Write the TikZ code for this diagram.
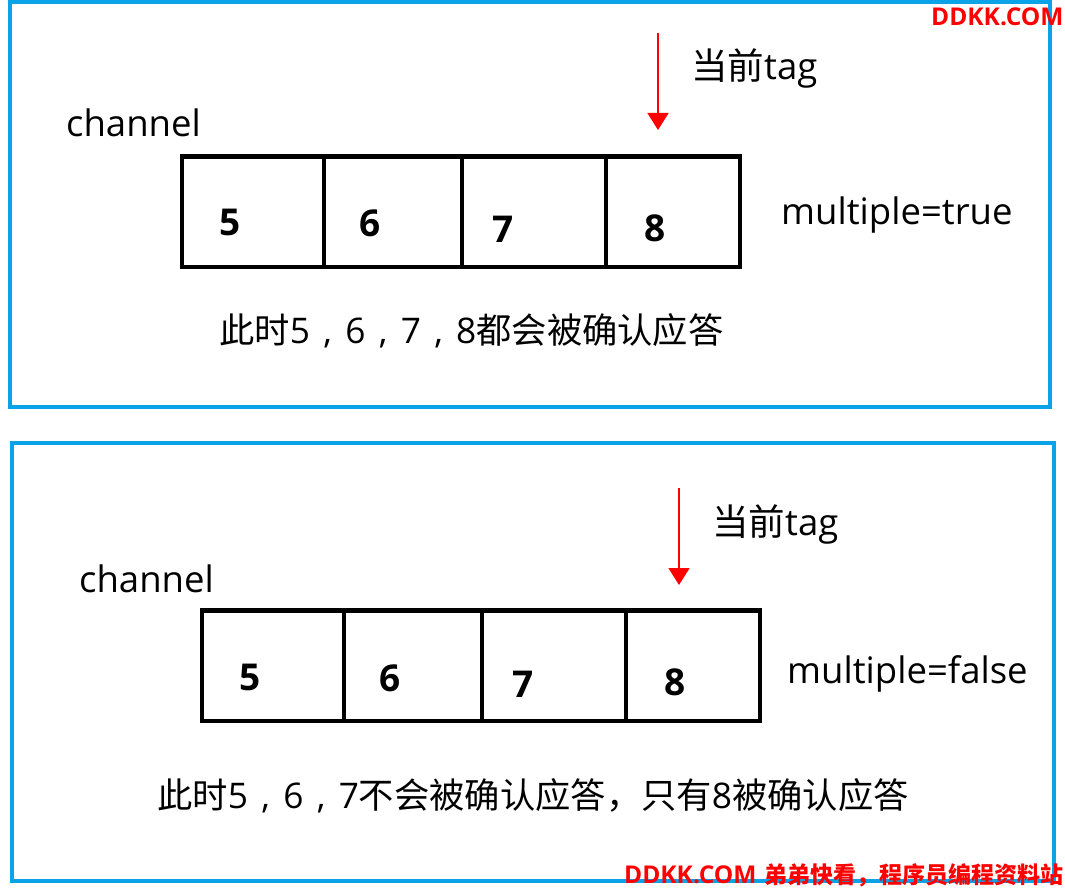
\documentclass[tikz,border=0pt]{standalone}
\usepackage{fontspec}
\setmainfont{Open Sans}
\newfontfamily\cjk{Noto Sans CJK SC}
\usetikzlibrary{arrows.meta}
\definecolor{frameblue}{RGB}{10,163,232}
\definecolor{wmred}{RGB}{255,0,0}
\newcommand\fwcomma{\makebox[1em][c]{,}}
\tikzset{
  frame/.style={draw=frameblue,line width=4.5pt,rectangle,inner sep=0pt,outer sep=0pt,anchor=north west},
  cell/.style={draw=black,line width=4.5pt,rectangle,inner sep=0pt,outer sep=0pt,anchor=north west,minimum height=110.5pt},
  num/.style={font=\fontsize{37}{40}\selectfont\bfseries,inner sep=0pt,text=black},
  txt/.style={font=\fontsize{36.5}{40}\selectfont,inner sep=0pt,anchor=base west,text=black},
  captxt/.style={font=\fontsize{35.3}{40}\selectfont,inner sep=0pt,anchor=base west,text=black},
  tagarrow/.style={draw=red,line width=1.6pt,-{Triangle[length=17pt,width=21pt]}},
  wm/.style={font=\fontsize{24.5}{28}\selectfont\bfseries,text=wmred,inner sep=0pt,anchor=base west}
}
\begin{document}
\begin{tikzpicture}[x=1pt,y=-1pt]
\useasboundingbox (0,0) rectangle (1065,888);
% frames
\node (frame1) [frame,minimum width=1040pt,minimum height=405pt] at (10,2) {};
\node (frame2) [frame,minimum width=1042pt,minimum height=438pt] at (12,443) {};

% ===== top panel =====
\node (ch1) [txt] at (66,136) {channel};
\node (c1a) [cell,minimum width=142pt] at (182,156.5) {};
\node (c1b) [cell,minimum width=138pt] at (324,156.5) {};
\node (c1c) [cell,minimum width=144pt] at (462,156.5) {};
\node (c1d) [cell,minimum width=134pt] at (606,156.5) {};
\node (n1a) [num] at (230.5,222) {5};
\node (n1b) [num] at (370,223.5) {6};
\node (n1c) [num] at (503,229.5) {7};
\node (n1d) [num] at (655,228) {8};
\node (m1) [txt] at (781,224) {multiple=true};
\node (tag1) [txt] at (691,80) {{\cjk 当前}tag};
\coordinate (t1s) at (658,33);
\coordinate (t1e) at (658,130);
\draw[tagarrow] (t1s) -- (t1e);
\node (cap1) [captxt] at (219,343) {{\cjk 此时}5\fwcomma 6\fwcomma 7\fwcomma 8{\cjk 都会被确认应答}};

% ===== bottom panel =====
\node (ch2) [txt] at (79,592) {channel};
\node (c2a) [cell,minimum width=142pt] at (202,610.5) {};
\node (c2b) [cell,minimum width=138pt] at (344,610.5) {};
\node (c2c) [cell,minimum width=144pt] at (482,610.5) {};
\node (c2d) [cell,minimum width=134pt] at (626,610.5) {};
\node (n2a) [num] at (250.5,677) {5};
\node (n2b) [num] at (390,678.5) {6};
\node (n2c) [num] at (523,684) {7};
\node (n2d) [num] at (675,682.5) {8};
\node (m2) [txt] at (787,683) {multiple=false};
\node (tag2) [txt] at (712,535) {{\cjk 当前}tag};
\coordinate (t2s) at (679,488);
\coordinate (t2e) at (679,585);
\draw[tagarrow] (t2s) -- (t2e);
\node (cap2) [captxt] at (157,808) {{\cjk 此时}5\fwcomma 6\fwcomma 7{\cjk 不会被确认应答，只有}8{\cjk 被确认应答}};

% ===== watermarks =====
\node (wm1) [wm] at (931,26) {DDKK.COM};
\node (wm2) [wm] at (624,883) {DDKK.COM\hspace{8pt}{\cjk\fontsize{23}{28}\selectfont 弟弟快看，程序员编程资料站}};
\end{tikzpicture}
\end{document}
